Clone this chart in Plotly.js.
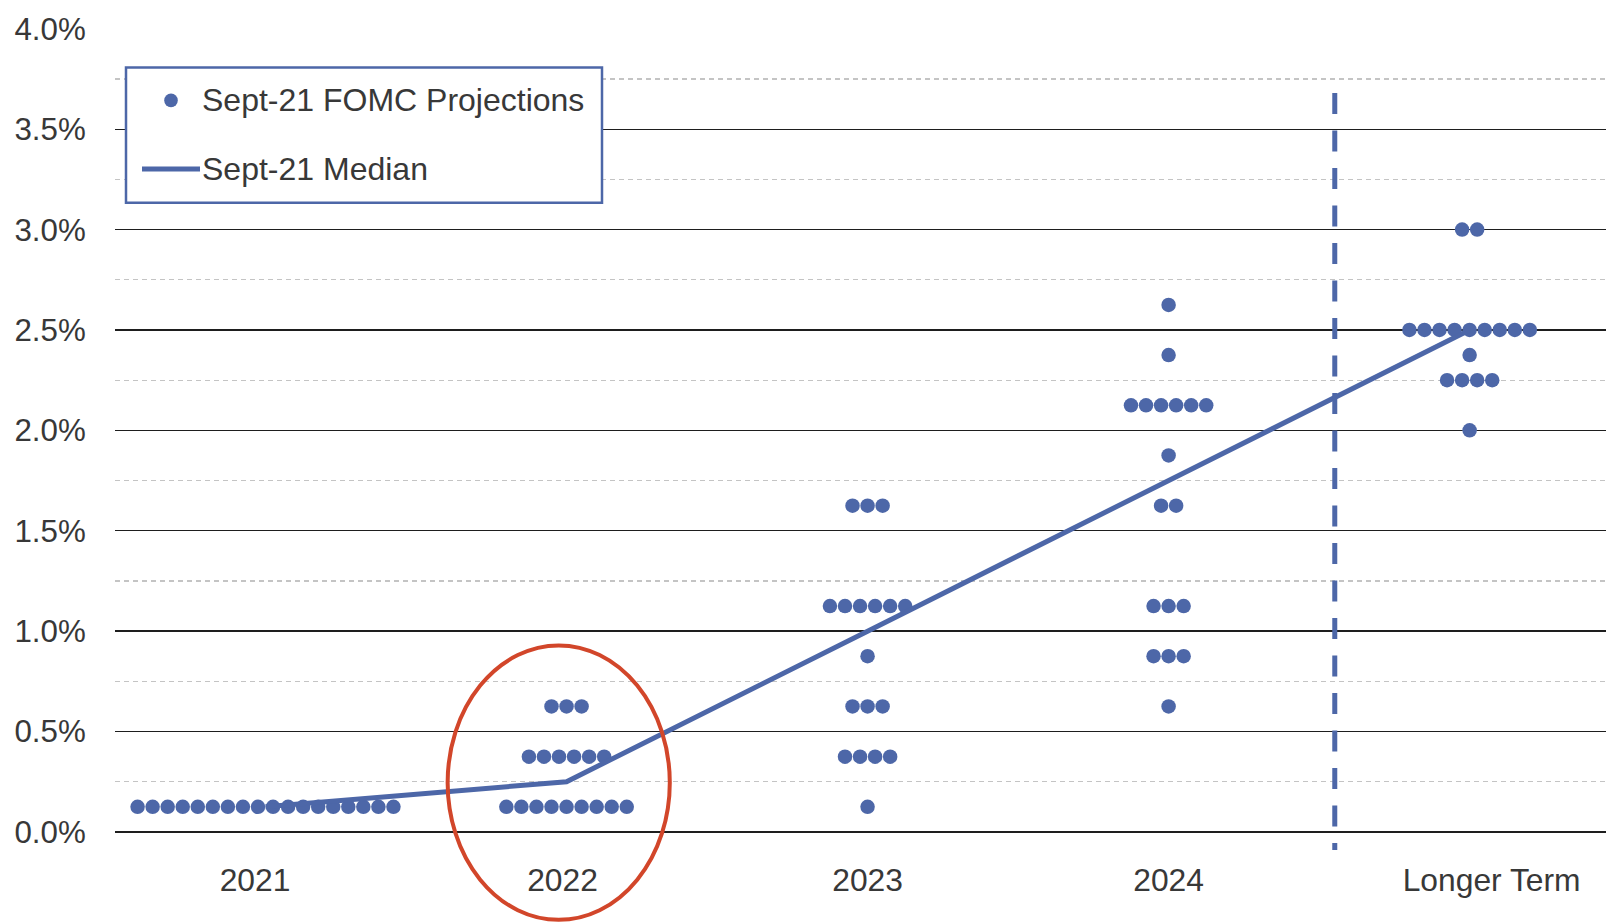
<!DOCTYPE html>
<html>
<head>
<meta charset="utf-8">
<script src="https://cdn.plot.ly/plotly-3.0.1.min.js"></script>
<style>
  html, body { margin: 0; padding: 0; background: #ffffff; }
  #chart { width: 1606px; height: 923px; }
</style>
</head>
<body>
<div id="chart"></div>
<script>
// Projection horizons shown along the x axis
const categories = ['2021', '2022', '2023', '2024', 'Longer Term'];

// Federal funds rate projections (%): rate levels and number of participants at each level
const levels2021 = [0.125];
const counts2021 = [18];
const levels2022 = [0.125, 0.375, 0.625];
const counts2022 = [9, 6, 3];
const levels2023 = [0.125, 0.375, 0.625, 0.875, 1.125, 1.625];
const counts2023 = [1, 4, 3, 1, 6, 3];
const levels2024 = [0.625, 0.875, 1.125, 1.625, 1.875, 2.125, 2.375, 2.625];
const counts2024 = [1, 3, 3, 2, 1, 6, 1, 1];
const levelsLonger = [2.0, 2.25, 2.375, 2.5, 3.0];
const countsLonger = [1, 4, 1, 9, 2];

// Median projection for each horizon (%)
const medianRates = [0.125, 0.25, 1.0, 1.75, 2.5];

// Y axis ticks (%)
const yTickValues = [0, 0.5, 1.0, 1.5, 2.0, 2.5, 3.0, 3.5, 4.0];
const yMinorValues = [0.25, 0.75, 1.25, 1.75, 2.25, 2.75, 3.25, 3.75];

// Legend entries
const legendLabels = ['Sept-21 FOMC Projections', 'Sept-21 Median'];

// ---- styling & geometry ----
const BLUE = '#4d67a8';
const RED = '#d2462a';
const TEXT = '#383838';
const FONT = 'Liberation Sans, Arial, Helvetica, sans-serif';

const W = 1606, H = 923;
const M = { l: 115, r: 0, t: 28, b: 71 };
const xRange = [-0.5, 4.453];
const yRange = [-0.1, 4.004];
const plotW = W - M.l - M.r;
const plotH = H - M.t - M.b;
const pxPerCat = plotW / (xRange[1] - xRange[0]);

const pxToPaperX = px => (px - M.l) / plotW;
const pxToPaperY = py => (M.t + plotH - py) / plotH;
const dataToPaperX = v => (v - xRange[0]) / (xRange[1] - xRange[0]);
const dataToPaperY = v => (v - yRange[0]) / (yRange[1] - yRange[0]);

// Dots sharing a rate level are spread side by side around the category centre
const DOT_STEP = 0.05;
const levelsByCategory = [levels2021, levels2022, levels2023, levels2024, levelsLonger];
const countsByCategory = [counts2021, counts2022, counts2023, counts2024, countsLonger];

const dotX = [];
const dotY = [];
categories.forEach((cat, i) => {
  levelsByCategory[i].forEach((level, j) => {
    const n = countsByCategory[i][j];
    for (let k = 0; k < n; k++) {
      dotX.push(i + (k - (n - 1) / 2) * DOT_STEP);
      dotY.push(level);
    }
  });
});

const categoryIndex = categories.map((c, i) => i);

const dots = {
  type: 'scatter',
  mode: 'markers',
  name: legendLabels[0],
  x: dotX,
  y: dotY,
  marker: { color: BLUE, size: 14.5, line: { width: 0 } },
  showlegend: false,
  hoverinfo: 'skip',
  cliponaxis: false
};

const median = {
  type: 'scatter',
  mode: 'lines',
  name: legendLabels[1],
  x: categoryIndex,
  y: medianRates,
  line: { color: BLUE, width: 5 },
  showlegend: false,
  hoverinfo: 'skip'
};

// Horizontal nudges (px) applied to the category labels
const labelNudgePx = [-10.5, -4, 0, 0, 22];
const xTickPositions = categoryIndex.map(i => i + labelNudgePx[i] / pxPerCat);

const shapes = [
  // divider between dated horizons and the longer run
  {
    type: 'line', xref: 'x', yref: 'y', layer: 'above',
    x0: 3.552, x1: 3.552, y0: 3.68, y1: -0.09,
    line: { color: BLUE, width: 5, dash: '21px,16.5px' }
  },
  // highlight around the 2022 projections
  {
    type: 'circle', xref: 'paper', yref: 'paper', layer: 'above',
    x0: dataToPaperX(0.605), x1: dataToPaperX(1.343),
    y0: dataToPaperY(-0.438), y1: dataToPaperY(0.929),
    line: { color: RED, width: 4 }, fillcolor: 'rgba(0,0,0,0)'
  },
  // legend frame
  {
    type: 'rect', xref: 'paper', yref: 'paper', layer: 'above',
    x0: pxToPaperX(126), x1: pxToPaperX(602),
    y0: pxToPaperY(202.8), y1: pxToPaperY(67.6),
    line: { color: BLUE, width: 2.5 }, fillcolor: '#ffffff'
  },
  // legend key: projection dot
  {
    type: 'circle', xref: 'paper', yref: 'paper', layer: 'above',
    xsizemode: 'pixel', ysizemode: 'pixel',
    xanchor: pxToPaperX(171), yanchor: pxToPaperY(100.4),
    x0: -6.8, x1: 6.8, y0: -6.8, y1: 6.8,
    line: { width: 0 }, fillcolor: BLUE
  },
  // legend key: median line
  {
    type: 'line', xref: 'paper', yref: 'paper', layer: 'above',
    x0: pxToPaperX(142), x1: pxToPaperX(200),
    y0: pxToPaperY(169), y1: pxToPaperY(169),
    line: { color: BLUE, width: 5 }
  }
];

const annotations = [
  {
    xref: 'paper', yref: 'paper', x: pxToPaperX(200), y: pxToPaperY(100.4),
    xanchor: 'left', yanchor: 'middle', showarrow: false,
    text: legendLabels[0], font: { family: FONT, size: 32, color: TEXT }
  },
  {
    xref: 'paper', yref: 'paper', x: pxToPaperX(200), y: pxToPaperY(169),
    xanchor: 'left', yanchor: 'middle', showarrow: false,
    text: legendLabels[1], font: { family: FONT, size: 32, color: TEXT }
  }
];

const layout = {
  width: W,
  height: H,
  margin: M,
  paper_bgcolor: '#ffffff',
  plot_bgcolor: '#ffffff',
  showlegend: false,
  font: { family: FONT, size: 31, color: TEXT },
  xaxis: {
    range: xRange,
    tickmode: 'array',
    tickvals: xTickPositions,
    ticktext: categories,
    showgrid: false,
    zeroline: false,
    showline: false,
    ticks: 'outside',
    ticklen: 0,
    tickcolor: 'rgba(0,0,0,0)',
    tickfont: { family: FONT, size: 31.8, color: TEXT },
    fixedrange: true
  },
  yaxis: {
    range: yRange,
    tickmode: 'array',
    tickvals: yTickValues,
    ticktext: yTickValues.map(v => v.toFixed(1) + '%'),
    showgrid: true,
    gridcolor: '#1e1e1e',
    gridwidth: 1.3,
    zeroline: false,
    showline: false,
    ticks: 'outside',
    ticklen: 22,
    tickcolor: 'rgba(0,0,0,0)',
    tickfont: { family: FONT, size: 31.3, color: TEXT },
    minor: {
      tickmode: 'array',
      tickvals: yMinorValues,
      showgrid: true,
      gridcolor: '#c4c4c4',
      gridwidth: 1.3,
      griddash: '5px,4px',
      ticks: ''
    },
    fixedrange: true
  },
  shapes: shapes,
  annotations: annotations
};

Plotly.newPlot('chart', [dots, median], layout, { displayModeBar: false, staticPlot: true });
</script>
</body>
</html>
